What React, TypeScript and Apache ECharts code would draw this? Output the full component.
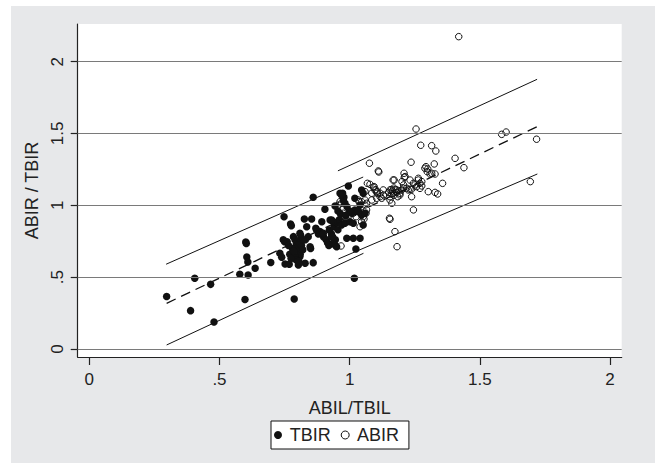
import React, { useEffect, useRef } from "react";
import * as echarts from "echarts";

const FONT = "'Liberation Sans', Arial, Helvetica, sans-serif";

const xTicks = [0, 0.5, 1, 1.5, 2];
const xTickLabels = ["0", ".5", "1", "1.5", "2"];
const yTicks = [0, 0.5, 1, 1.5, 2];
const yTickLabels = ["0", ".5", "1", "1.5", "2"];

const tbir: number[][] = [
  [0.297, 0.365], [0.389, 0.267], [0.405, 0.492], [0.466, 0.45], [0.479, 0.188],
  [0.578, 0.52], [0.61, 0.515], [0.598, 0.345], [0.601, 0.745], [0.603, 0.735], [0.605, 0.64], [0.609, 0.605], [0.637, 0.562],
  [0.697, 0.602], [0.748, 0.921], [0.732, 0.666], [0.739, 0.638], [0.752, 0.592], [0.787, 0.348],
  [0.773, 0.87], [0.776, 0.858], [0.75, 0.747], [0.76, 0.747], [0.784, 0.782], [0.768, 0.59], [0.803, 0.585],
  [0.829, 0.597], [0.86, 0.601], [0.826, 0.905], [0.854, 0.905], [0.835, 0.851], [0.86, 1.056], [0.85, 0.7],
  [0.809, 0.643], [0.841, 0.782], [0.886, 0.817], [0.893, 0.886], [0.905, 0.973], [0.922, 0.828], [0.995, 1.135],
  [0.973, 1.084], [0.978, 1.056], [0.989, 0.771], [1.014, 0.771], [1.04, 0.771], [1.024, 0.696], [1.018, 0.492], [0.925, 0.898],
  [0.963, 1.084], [0.976, 1.037], [0.982, 1.014], [1.02, 1.049], [1.04, 1.002],
  [0.79, 0.76], [0.795, 0.73], [0.8, 0.7], [0.805, 0.68], [0.81, 0.66], [0.815, 0.72], [0.78, 0.7], [0.77, 0.66],
  [0.79, 0.64], [0.82, 0.69], [0.8, 0.75], [0.765, 0.72], [0.745, 0.76], [0.812, 0.79], [0.83, 0.76], [0.785, 0.68],
  [0.795, 0.62], [0.775, 0.63], [0.805, 0.61], [0.822, 0.759], [0.848, 0.712], [0.809, 0.805],
  [0.87, 0.84], [0.88, 0.8], [0.9, 0.78], [0.91, 0.76], [0.915, 0.74], [0.92, 0.72], [0.93, 0.8], [0.94, 0.85],
  [0.95, 0.88], [0.955, 0.83], [0.96, 0.9], [0.945, 0.76], [0.935, 0.78], [0.965, 0.94], [0.931, 0.782], [0.937, 0.736],
  [0.944, 0.724], [0.95, 0.712], [0.899, 0.805], [0.873, 0.828], [0.931, 0.898], [0.937, 0.886], [0.969, 0.863],
  [0.982, 0.875], [1.001, 0.886], [1.014, 0.875], [1.008, 0.945], [1.02, 0.956], [1.033, 0.956], [1.052, 0.863],
  [0.944, 0.995], [0.969, 1.072], [1.046, 0.933], [1.059, 0.945], [1.046, 1.107], [1.052, 1.084], [1.02, 0.968],
  [1.033, 0.962], [0.99, 0.99], [1.0, 0.96], [0.955, 0.96], [0.985, 0.93],
];

const abir: number[][] = [
  [1.419, 2.174], [1.255, 1.531], [1.273, 1.418], [1.315, 1.415], [1.331, 1.378], [1.584, 1.494], [1.601, 1.51],
  [1.718, 1.46], [1.405, 1.327], [1.439, 1.262], [1.357, 1.153], [1.694, 1.165], [1.076, 1.293], [1.11, 1.239],
  [1.112, 1.232], [1.236, 1.3], [1.293, 1.269], [1.3, 1.253], [1.325, 1.288], [1.315, 1.223], [1.328, 1.218],
  [1.209, 1.223], [1.213, 1.2], [1.171, 1.176], [1.078, 1.146], [1.094, 1.13], [1.232, 1.176], [1.245, 1.153],
  [1.257, 1.13], [1.27, 1.118], [1.264, 1.188], [1.277, 1.165], [1.302, 1.095], [1.328, 1.09], [1.338, 1.079],
  [1.238, 1.06], [1.193, 1.084], [1.2, 1.107], [1.104, 1.095], [1.117, 1.084], [1.129, 1.107], [1.085, 1.084],
  [1.167, 1.176], [1.21, 1.195], [1.201, 1.165], [1.207, 1.142], [1.289, 1.258], [1.298, 1.234], [1.309, 1.218],
  [1.264, 1.176], [1.27, 1.153], [1.277, 1.135], [1.238, 1.112], [1.245, 0.968], [1.153, 0.91], [1.091, 1.126],
  [1.097, 1.107], [1.13, 1.072], [1.117, 1.06], [1.104, 1.049], [1.085, 1.037], [1.065, 1.014], [1.059, 1.037],
  [1.033, 1.037], [1.046, 1.025],
  [1.155, 1.06], [1.16, 1.08], [1.165, 1.1], [1.17, 1.07], [1.175, 1.11], [1.18, 1.09], [1.185, 1.06], [1.19, 1.1],
  [1.16, 1.11], [1.17, 1.12], [1.15, 1.09], [1.155, 1.107], [1.168, 1.084], [1.155, 1.037], [1.162, 1.014],
  [1.181, 1.107], [1.193, 1.072], [1.219, 1.119], [1.232, 1.112], [1.207, 1.119], [1.225, 1.107], [1.251, 1.142],
  [1.123, 1.049], [1.101, 1.107], [1.106, 1.084], [1.155, 0.903], [1.174, 0.817], [1.182, 0.712], [1.059, 1.002],
  [1.065, 0.968], [1.063, 0.945], [1.055, 0.905], [0.976, 0.945], [0.982, 0.921], [0.967, 0.717], [1.036, 1.025],
  [1.029, 0.963], [1.068, 1.153], [1.059, 1.095], [0.963, 1.025], [0.969, 1.014], [1.001, 0.933], [1.014, 0.945],
  [1.025, 0.921], [1.052, 0.921], [1.046, 0.886], [1.04, 0.851], [0.957, 1.002],
];

// fitted line and band end points
const fitLine = [[0.297, 0.318], [1.721, 1.548]];
const upperTBIR = [[0.295, 0.59], [1.052, 1.197]];
const lowerTBIR = [[0.297, 0.028], [1.053, 0.666]];
const upperABIR = [[0.955, 1.24], [1.72, 1.877]];
const lowerABIR = [[0.957, 0.627], [1.721, 1.218]];

const fmt = (ticks: number[], labels: string[]) => (v: number) => {
  const i = ticks.findIndex((t) => Math.abs(t - v) < 1e-6);
  return i >= 0 ? labels[i] : "";
};

export default function App() {
  const ref = useRef<HTMLDivElement>(null);
  useEffect(() => {
    if (!ref.current) return;
    const chart = echarts.init(ref.current, null, { renderer: "svg" });
    const txt = { fontFamily: FONT, fontSize: 17, color: "#222" };
    const big = { fontFamily: FONT, fontSize: 18, color: "#222" };
    const lineSeries = (name: string, data: number[][], dashed = false) => ({
      name,
      type: "line",
      data,
      symbol: "none",
      silent: true,
      z: 4,
      lineStyle: { color: "#111", width: dashed ? 1.3 : 1, type: dashed ? [10, 6] : "solid" },
    });
    chart.setOption({
      animation: false,
      backgroundColor: "transparent",
      textStyle: { fontFamily: FONT },
      grid: {
        left: 77.7,
        right: 655 - 621.7,
        top: 24,
        bottom: 463 - 357,
        show: true,
        backgroundColor: "#fff",
        borderWidth: 0,
      },
      legend: {
        data: [
          { name: "TBIR", icon: "circle", itemStyle: { color: "#111", borderWidth: 0 } },
          { name: "ABIR", icon: "circle", itemStyle: { color: "#fff", borderColor: "#111", borderWidth: 1 } },
        ],
        left: 271,
        top: 421,
        orient: "horizontal",
        backgroundColor: "#fff",
        borderColor: "#111",
        borderWidth: 1,
        borderRadius: 0,
        padding: [5, 10, 5, 3],
        itemGap: 10,
        itemWidth: 13.4,
        itemHeight: 8,
        symbolKeepAspect: true,
        textStyle: { ...big },
      },
      xAxis: {
        type: "value",
        min: -0.0446,
        max: 2.045,
        name: "ABIL/TBIL",
        nameLocation: "middle",
        nameGap: 42,
        nameTextStyle: { ...big },
        axisLine: { onZero: false, lineStyle: { color: "#222", width: 1.2 } },
        axisTick: { customValues: xTicks, length: 8, lineStyle: { color: "#222", width: 1.2 } },
        axisLabel: { customValues: xTicks, formatter: fmt(xTicks, xTickLabels), margin: 14, ...txt },
        splitLine: { show: false },
      },
      yAxis: {
        type: "value",
        min: -0.0557,
        max: 2.262,
        name: "ABIR / TBIR",
        nameLocation: "middle",
        nameRotate: 90,
        nameGap: 29,
        nameTextStyle: { ...big },
        axisLine: { onZero: false, lineStyle: { color: "#222", width: 1.2 } },
        axisTick: { customValues: yTicks, length: 7, lineStyle: { color: "#222", width: 1.2 } },
        axisLabel: { customValues: yTicks, formatter: fmt(yTicks, yTickLabels), margin: 12, rotate: 90, ...txt },
        splitLine: { show: false },
      },
      series: [
        {
          name: "grid",
          type: "line",
          data: [],
          silent: true,
          z: 1,
          markLine: {
            silent: true,
            symbol: ["none", "none"],
            label: { show: false },
            lineStyle: { color: "#7a7a7a", width: 1.2, type: "solid" },
            data: yTicks.map((v) => ({ yAxis: v })),
          },
        },
        {
          name: "TBIR",
          type: "scatter",
          data: tbir,
          symbol: "circle",
          symbolSize: 7.5,
          z: 3,
          itemStyle: { color: "#111", borderWidth: 0, opacity: 1 },
        },
        {
          name: "ABIR",
          type: "scatter",
          data: abir,
          symbol: "circle",
          symbolSize: 6.5,
          z: 3,
          itemStyle: { color: "rgba(255,255,255,0)", borderColor: "#111", borderWidth: 1, opacity: 1 },
        },
        lineSeries("fit", fitLine, true),
        lineSeries("upper TBIR", upperTBIR),
        lineSeries("lower TBIR", lowerTBIR),
        lineSeries("upper ABIR", upperABIR),
        lineSeries("lower ABIR", lowerABIR),
      ],
    });
    return () => chart.dispose();
  }, []);

  return (
    <div style={{ position: "absolute", left: 0, top: 0, width: 655, height: 463, background: "#fff" }}>
      <div style={{ position: "absolute", left: 11, top: 6, width: 644, height: 457, background: "#e7e8ea" }} />
      <div ref={ref} style={{ position: "absolute", left: 0, top: 0, width: 655, height: 463 }} />
    </div>
  );
}
